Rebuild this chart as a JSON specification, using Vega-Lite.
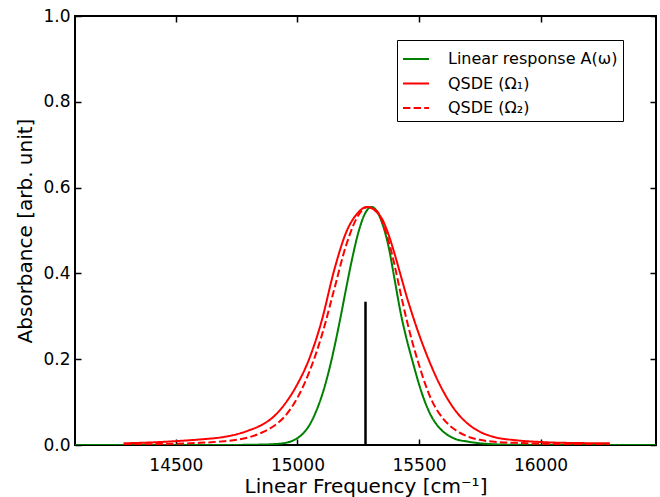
{
  "$schema": "https://vega.github.io/schema/vega-lite/v6.json",
  "width": 581,
  "height": 429,
  "autosize": {"type": "none"},
  "padding": {"left": 75, "top": 16, "right": 4, "bottom": 52},
  "background": "white",
  "config": {
    "view": {"stroke": "black", "strokeWidth": 2},
    "font": "DejaVu Sans",
    "axis": {
      "domain": false,
      "grid": false,
      "tickColor": "black",
      "tickWidth": 1.5,
      "tickSize": -6,
      "labelFont": "DejaVu Sans",
      "labelFontSize": 17,
      "labelColor": "black",
      "labelFlush": false,
      "titleFont": "DejaVu Sans",
      "titleFontSize": 20,
      "titleFontWeight": "normal",
      "titleColor": "black"
    }
  },
  "datasets": {
    "curves": [
      {"freq": 14085, "absorbance": 0, "series": "Linear response A(ω)"},
      {"freq": 14300, "absorbance": 0, "series": "Linear response A(ω)"},
      {"freq": 14500, "absorbance": 0, "series": "Linear response A(ω)"},
      {"freq": 14700, "absorbance": 0, "series": "Linear response A(ω)"},
      {"freq": 14800, "absorbance": 0.0005, "series": "Linear response A(ω)"},
      {"freq": 14850, "absorbance": 0.001, "series": "Linear response A(ω)"},
      {"freq": 14900, "absorbance": 0.002, "series": "Linear response A(ω)"},
      {"freq": 14950, "absorbance": 0.005, "series": "Linear response A(ω)"},
      {"freq": 15000, "absorbance": 0.016, "series": "Linear response A(ω)"},
      {"freq": 15025, "absorbance": 0.028, "series": "Linear response A(ω)"},
      {"freq": 15050, "absorbance": 0.047, "series": "Linear response A(ω)"},
      {"freq": 15075, "absorbance": 0.076, "series": "Linear response A(ω)"},
      {"freq": 15100, "absorbance": 0.114, "series": "Linear response A(ω)"},
      {"freq": 15125, "absorbance": 0.163, "series": "Linear response A(ω)"},
      {"freq": 15150, "absorbance": 0.223, "series": "Linear response A(ω)"},
      {"freq": 15175, "absorbance": 0.291, "series": "Linear response A(ω)"},
      {"freq": 15200, "absorbance": 0.364, "series": "Linear response A(ω)"},
      {"freq": 15225, "absorbance": 0.434, "series": "Linear response A(ω)"},
      {"freq": 15250, "absorbance": 0.494, "series": "Linear response A(ω)"},
      {"freq": 15275, "absorbance": 0.536, "series": "Linear response A(ω)"},
      {"freq": 15305, "absorbance": 0.555, "series": "Linear response A(ω)"},
      {"freq": 15330, "absorbance": 0.542, "series": "Linear response A(ω)"},
      {"freq": 15350, "absorbance": 0.515, "series": "Linear response A(ω)"},
      {"freq": 15375, "absorbance": 0.462, "series": "Linear response A(ω)"},
      {"freq": 15400, "absorbance": 0.385, "series": "Linear response A(ω)"},
      {"freq": 15425, "absorbance": 0.307, "series": "Linear response A(ω)"},
      {"freq": 15450, "absorbance": 0.245, "series": "Linear response A(ω)"},
      {"freq": 15475, "absorbance": 0.192, "series": "Linear response A(ω)"},
      {"freq": 15500, "absorbance": 0.142, "series": "Linear response A(ω)"},
      {"freq": 15525, "absorbance": 0.1, "series": "Linear response A(ω)"},
      {"freq": 15550, "absorbance": 0.068, "series": "Linear response A(ω)"},
      {"freq": 15575, "absorbance": 0.046, "series": "Linear response A(ω)"},
      {"freq": 15600, "absorbance": 0.031, "series": "Linear response A(ω)"},
      {"freq": 15625, "absorbance": 0.021, "series": "Linear response A(ω)"},
      {"freq": 15650, "absorbance": 0.014, "series": "Linear response A(ω)"},
      {"freq": 15700, "absorbance": 0.008, "series": "Linear response A(ω)"},
      {"freq": 15750, "absorbance": 0.004, "series": "Linear response A(ω)"},
      {"freq": 15800, "absorbance": 0.002, "series": "Linear response A(ω)"},
      {"freq": 15900, "absorbance": 0.0005, "series": "Linear response A(ω)"},
      {"freq": 16000, "absorbance": 0, "series": "Linear response A(ω)"},
      {"freq": 16475, "absorbance": 0, "series": "Linear response A(ω)"},

      {"freq": 14285, "absorbance": 0.004, "series": "QSDE (Ω₁)"},
      {"freq": 14400, "absorbance": 0.006, "series": "QSDE (Ω₁)"},
      {"freq": 14500, "absorbance": 0.009, "series": "QSDE (Ω₁)"},
      {"freq": 14600, "absorbance": 0.013, "series": "QSDE (Ω₁)"},
      {"freq": 14700, "absorbance": 0.019, "series": "QSDE (Ω₁)"},
      {"freq": 14750, "absorbance": 0.025, "series": "QSDE (Ω₁)"},
      {"freq": 14800, "absorbance": 0.034, "series": "QSDE (Ω₁)"},
      {"freq": 14850, "absorbance": 0.046, "series": "QSDE (Ω₁)"},
      {"freq": 14900, "absorbance": 0.065, "series": "QSDE (Ω₁)"},
      {"freq": 14950, "absorbance": 0.097, "series": "QSDE (Ω₁)"},
      {"freq": 15000, "absorbance": 0.142, "series": "QSDE (Ω₁)"},
      {"freq": 15050, "absorbance": 0.203, "series": "QSDE (Ω₁)"},
      {"freq": 15100, "absorbance": 0.29, "series": "QSDE (Ω₁)"},
      {"freq": 15150, "absorbance": 0.405, "series": "QSDE (Ω₁)"},
      {"freq": 15200, "absorbance": 0.495, "series": "QSDE (Ω₁)"},
      {"freq": 15250, "absorbance": 0.542, "series": "QSDE (Ω₁)"},
      {"freq": 15285, "absorbance": 0.555, "series": "QSDE (Ω₁)"},
      {"freq": 15320, "absorbance": 0.546, "series": "QSDE (Ω₁)"},
      {"freq": 15350, "absorbance": 0.525, "series": "QSDE (Ω₁)"},
      {"freq": 15375, "absorbance": 0.49, "series": "QSDE (Ω₁)"},
      {"freq": 15400, "absorbance": 0.445, "series": "QSDE (Ω₁)"},
      {"freq": 15425, "absorbance": 0.395, "series": "QSDE (Ω₁)"},
      {"freq": 15450, "absorbance": 0.345, "series": "QSDE (Ω₁)"},
      {"freq": 15475, "absorbance": 0.3, "series": "QSDE (Ω₁)"},
      {"freq": 15500, "absorbance": 0.258, "series": "QSDE (Ω₁)"},
      {"freq": 15525, "absorbance": 0.22, "series": "QSDE (Ω₁)"},
      {"freq": 15550, "absorbance": 0.185, "series": "QSDE (Ω₁)"},
      {"freq": 15575, "absorbance": 0.153, "series": "QSDE (Ω₁)"},
      {"freq": 15600, "absorbance": 0.125, "series": "QSDE (Ω₁)"},
      {"freq": 15650, "absorbance": 0.08, "series": "QSDE (Ω₁)"},
      {"freq": 15700, "absorbance": 0.05, "series": "QSDE (Ω₁)"},
      {"freq": 15750, "absorbance": 0.031, "series": "QSDE (Ω₁)"},
      {"freq": 15800, "absorbance": 0.02, "series": "QSDE (Ω₁)"},
      {"freq": 15900, "absorbance": 0.011, "series": "QSDE (Ω₁)"},
      {"freq": 16000, "absorbance": 0.007, "series": "QSDE (Ω₁)"},
      {"freq": 16100, "absorbance": 0.005, "series": "QSDE (Ω₁)"},
      {"freq": 16285, "absorbance": 0.004, "series": "QSDE (Ω₁)"},

      {"freq": 14285, "absorbance": 0.001, "series": "QSDE (Ω₂)"},
      {"freq": 14400, "absorbance": 0.002, "series": "QSDE (Ω₂)"},
      {"freq": 14500, "absorbance": 0.003, "series": "QSDE (Ω₂)"},
      {"freq": 14600, "absorbance": 0.005, "series": "QSDE (Ω₂)"},
      {"freq": 14700, "absorbance": 0.009, "series": "QSDE (Ω₂)"},
      {"freq": 14750, "absorbance": 0.012, "series": "QSDE (Ω₂)"},
      {"freq": 14800, "absorbance": 0.018, "series": "QSDE (Ω₂)"},
      {"freq": 14850, "absorbance": 0.028, "series": "QSDE (Ω₂)"},
      {"freq": 14900, "absorbance": 0.043, "series": "QSDE (Ω₂)"},
      {"freq": 14950, "absorbance": 0.068, "series": "QSDE (Ω₂)"},
      {"freq": 15000, "absorbance": 0.11, "series": "QSDE (Ω₂)"},
      {"freq": 15050, "absorbance": 0.172, "series": "QSDE (Ω₂)"},
      {"freq": 15100, "absorbance": 0.255, "series": "QSDE (Ω₂)"},
      {"freq": 15150, "absorbance": 0.36, "series": "QSDE (Ω₂)"},
      {"freq": 15200, "absorbance": 0.465, "series": "QSDE (Ω₂)"},
      {"freq": 15250, "absorbance": 0.535, "series": "QSDE (Ω₂)"},
      {"freq": 15290, "absorbance": 0.555, "series": "QSDE (Ω₂)"},
      {"freq": 15330, "absorbance": 0.543, "series": "QSDE (Ω₂)"},
      {"freq": 15355, "absorbance": 0.51, "series": "QSDE (Ω₂)"},
      {"freq": 15380, "absorbance": 0.465, "series": "QSDE (Ω₂)"},
      {"freq": 15400, "absorbance": 0.418, "series": "QSDE (Ω₂)"},
      {"freq": 15425, "absorbance": 0.352, "series": "QSDE (Ω₂)"},
      {"freq": 15450, "absorbance": 0.29, "series": "QSDE (Ω₂)"},
      {"freq": 15475, "absorbance": 0.235, "series": "QSDE (Ω₂)"},
      {"freq": 15500, "absorbance": 0.187, "series": "QSDE (Ω₂)"},
      {"freq": 15525, "absorbance": 0.143, "series": "QSDE (Ω₂)"},
      {"freq": 15550, "absorbance": 0.107, "series": "QSDE (Ω₂)"},
      {"freq": 15600, "absorbance": 0.061, "series": "QSDE (Ω₂)"},
      {"freq": 15650, "absorbance": 0.035, "series": "QSDE (Ω₂)"},
      {"freq": 15700, "absorbance": 0.02, "series": "QSDE (Ω₂)"},
      {"freq": 15750, "absorbance": 0.012, "series": "QSDE (Ω₂)"},
      {"freq": 15800, "absorbance": 0.008, "series": "QSDE (Ω₂)"},
      {"freq": 15900, "absorbance": 0.005, "series": "QSDE (Ω₂)"},
      {"freq": 16000, "absorbance": 0.003, "series": "QSDE (Ω₂)"},
      {"freq": 16100, "absorbance": 0.002, "series": "QSDE (Ω₂)"},
      {"freq": 16285, "absorbance": 0.001, "series": "QSDE (Ω₂)"}
    ],
    "stick": [
      {"freq": 15280, "absorbance": 0.334}
    ]
  },
  "layer": [
    {
      "data": {"name": "curves"},
      "mark": {"type": "line", "strokeWidth": 2, "clip": true, "interpolate": "monotone"},
      "encoding": {
        "x": {
          "field": "freq",
          "type": "quantitative",
          "scale": {"domain": [14085, 16475], "nice": false, "zero": false},
          "axis": {
            "orient": "bottom",
            "values": [14500, 15000, 15500, 16000],
            "format": "d",
            "labelPadding": 18,
            "titlePadding": 3,
            "title": "Linear Frequency [cm⁻¹]"
          }
        },
        "y": {
          "field": "absorbance",
          "type": "quantitative",
          "scale": {"domain": [0, 1], "nice": false},
          "axis": {
            "orient": "left",
            "values": [0, 0.2, 0.4, 0.6, 0.8, 1.0],
            "format": ".1f",
            "labelPadding": 11,
            "titlePadding": 7,
            "title": "Absorbance [arb. unit]"
          }
        },
        "color": {
          "field": "series",
          "type": "nominal",
          "sort": null,
          "scale": {
            "domain": ["Linear response A(ω)", "QSDE (Ω₁)", "QSDE (Ω₂)"],
            "range": ["#008000", "#ff0000", "#ff0000"]
          },
          "legend": {
            "title": null,
            "orient": "none",
            "legendX": 322,
            "legendY": 24,
            "strokeColor": "black",
            "fillColor": "white",
            "padding": 5,
            "symbolType": "stroke",
            "symbolSize": 676,
            "symbolStrokeWidth": 2,
            "labelFontSize": 16,
            "labelFont": "DejaVu Sans",
            "labelColor": "black",
            "labelOffset": 18,
            "labelLimit": 400,
            "rowPadding": 2.5
          }
        },
        "strokeDash": {
          "field": "series",
          "type": "nominal",
          "sort": null,
          "scale": {
            "domain": ["Linear response A(ω)", "QSDE (Ω₁)", "QSDE (Ω₂)"],
            "range": [[1, 0], [1, 0], [7.4, 3.2]]
          },
          "legend": {
            "title": null,
            "orient": "none",
            "legendX": 322,
            "legendY": 24,
            "strokeColor": "black",
            "fillColor": "white",
            "padding": 5,
            "symbolType": "stroke",
            "symbolSize": 676,
            "symbolStrokeWidth": 2,
            "labelFontSize": 16,
            "labelFont": "DejaVu Sans",
            "labelColor": "black",
            "labelOffset": 18,
            "labelLimit": 400,
            "rowPadding": 2.5
          }
        }
      }
    },
    {
      "data": {"name": "stick"},
      "mark": {"type": "rule", "color": "black", "strokeWidth": 2.5},
      "encoding": {
        "x": {
          "field": "freq",
          "type": "quantitative",
          "axis": {
            "orient": "top",
            "values": [14500, 15000, 15500, 16000],
            "labels": false,
            "title": null
          }
        },
        "y": {
          "field": "absorbance",
          "type": "quantitative",
          "axis": {
            "orient": "right",
            "values": [0, 0.2, 0.4, 0.6, 0.8, 1.0],
            "labels": false,
            "title": null
          }
        },
        "y2": {"datum": 0}
      }
    }
  ],
  "resolve": {"axis": {"x": "independent", "y": "independent"}}
}
